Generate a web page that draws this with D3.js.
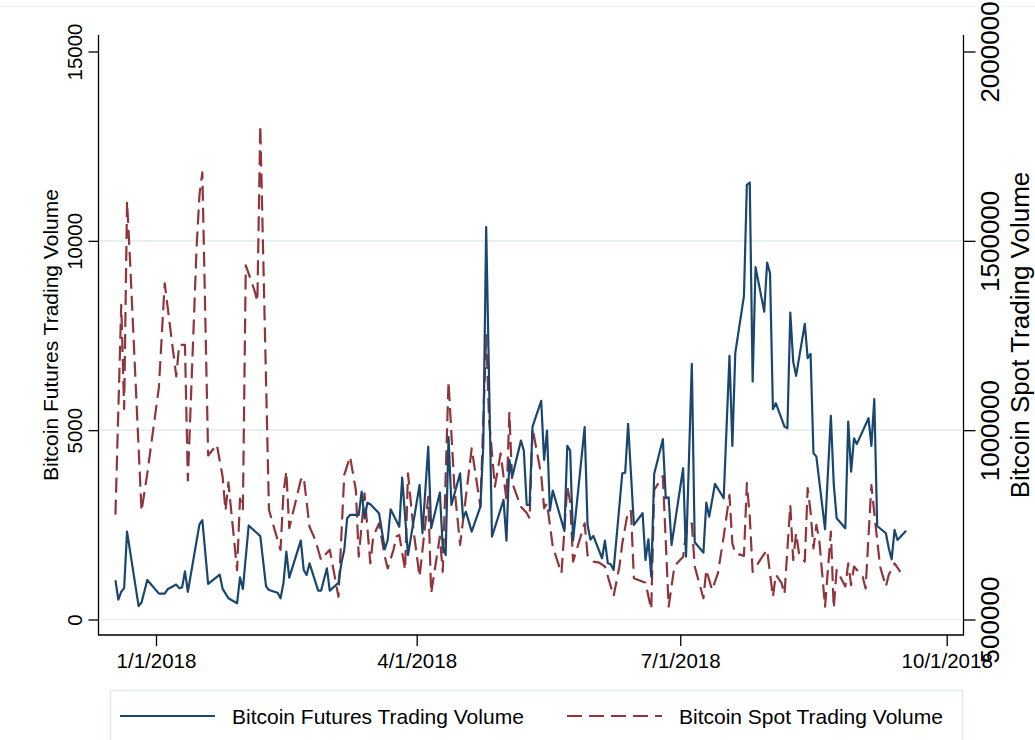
<!DOCTYPE html>
<html>
<head>
<meta charset="utf-8">
<script src="https://cdnjs.cloudflare.com/ajax/libs/d3/7.8.5/d3.min.js"></script>
<style>
  html, body { margin: 0; padding: 0; background: #fff; }
  svg { display: block; font-family: 'Liberation Sans', Arial, Helvetica, sans-serif; }
</style>
</head>
<body>
<svg id="chart" width="1035" height="740"></svg>
<script>
// CME bitcoin futures volume (contracts), business days
const futuresDates = [
  '2017-12-18', '2017-12-19', '2017-12-20', '2017-12-21', '2017-12-22', '2017-12-26', '2017-12-27', '2017-12-29',
  '2018-01-02', '2018-01-04', '2018-01-05', '2018-01-08', '2018-01-09', '2018-01-10', '2018-01-11', '2018-01-12',
  '2018-01-16', '2018-01-17', '2018-01-19', '2018-01-23', '2018-01-24', '2018-01-26', '2018-01-29', '2018-01-30',
  '2018-01-31', '2018-02-02', '2018-02-06', '2018-02-08', '2018-02-09', '2018-02-12', '2018-02-13', '2018-02-14',
  '2018-02-15', '2018-02-16', '2018-02-20', '2018-02-21', '2018-02-22', '2018-02-23', '2018-02-26', '2018-02-27',
  '2018-03-01', '2018-03-02', '2018-03-05', '2018-03-06', '2018-03-07', '2018-03-08', '2018-03-09', '2018-03-12',
  '2018-03-13', '2018-03-14', '2018-03-15', '2018-03-16', '2018-03-19', '2018-03-21', '2018-03-22', '2018-03-23',
  '2018-03-26', '2018-03-27', '2018-03-29', '2018-04-02', '2018-04-03', '2018-04-05', '2018-04-06', '2018-04-09',
  '2018-04-10', '2018-04-11', '2018-04-12', '2018-04-13', '2018-04-16', '2018-04-17', '2018-04-18', '2018-04-20',
  '2018-04-23', '2018-04-24', '2018-04-25', '2018-04-27', '2018-05-01', '2018-05-02', '2018-05-03', '2018-05-04',
  '2018-05-07', '2018-05-08', '2018-05-09', '2018-05-10', '2018-05-11', '2018-05-14', '2018-05-15', '2018-05-16',
  '2018-05-17', '2018-05-18', '2018-05-22', '2018-05-23', '2018-05-24', '2018-05-25', '2018-05-29', '2018-05-30',
  '2018-05-31', '2018-06-01', '2018-06-04', '2018-06-05', '2018-06-06', '2018-06-07', '2018-06-08', '2018-06-11',
  '2018-06-12', '2018-06-13', '2018-06-15', '2018-06-18', '2018-06-19', '2018-06-20', '2018-06-21', '2018-06-22',
  '2018-06-25', '2018-06-26', '2018-06-27', '2018-06-28', '2018-07-02', '2018-07-03', '2018-07-05', '2018-07-06',
  '2018-07-09', '2018-07-10', '2018-07-11', '2018-07-13', '2018-07-16', '2018-07-18', '2018-07-19', '2018-07-20',
  '2018-07-23', '2018-07-24', '2018-07-25', '2018-07-26', '2018-07-27', '2018-07-30', '2018-07-31', '2018-08-01',
  '2018-08-02', '2018-08-03', '2018-08-06', '2018-08-07', '2018-08-08', '2018-08-09', '2018-08-10', '2018-08-13',
  '2018-08-14', '2018-08-15', '2018-08-16', '2018-08-17', '2018-08-20', '2018-08-22', '2018-08-23', '2018-08-24',
  '2018-08-27', '2018-08-28', '2018-08-29', '2018-08-30', '2018-08-31', '2018-09-04', '2018-09-05', '2018-09-06',
  '2018-09-07', '2018-09-10', '2018-09-11', '2018-09-12', '2018-09-13', '2018-09-14', '2018-09-17'
];
const futuresValues = [
  1036, 523, 732, 827, 2322, 354, 449, 1044,
  684, 684, 798, 922, 827, 845, 1271, 732,
  2513, 2626, 940, 1186, 808, 563, 428, 1112,
  808, 2483, 2201, 875, 779, 708, 560, 956,
  1791, 1105, 2083, 1308, 1176, 1484, 761, 761,
  1352, 761, 972, 1484, 1836, 2673, 2761, 2761,
  3377, 2673, 3086, 3043, 2806, 1855, 2100, 2911,
  2452, 3746, 1704, 3553, 2277, 4565, 2409, 3350,
  1923, 1704, 4814, 3025, 3862, 2673, 2848, 2320,
  2980, 4600, 10360, 2188, 3157, 2083, 4214, 3773,
  4724, 4460, 3025, 3025, 5094, 5773, 4214, 4988,
  2874, 3403, 2340, 4584, 4460, 2090, 5078, 2497,
  2110, 2206, 1617, 2083, 1484, 1458, 1308, 3862,
  3879, 5165, 2497, 2806, 1572, 2119, 1131, 3844,
  4761, 3202, 3228, 1968, 3995, 1659, 6750, 2040,
  1765, 3086, 2716, 3580, 3202, 6962, 4584, 7033,
  8547, 11480, 11540, 6283, 9305, 8132, 9427, 9147,
  5553, 5712, 5094, 5051, 8106, 6811, 6433, 7807,
  6901, 7015, 4391, 4301, 2383, 5376, 3580, 2673,
  2409, 5226, 3905, 4787, 4637, 5316, 4584, 5818,
  2470, 2277, 1880, 1590, 2365, 2100, 2346
];

// spot exchange volume (BTC)
const spotDates = [
  '2017-12-18', '2017-12-20', '2017-12-21', '2017-12-22', '2017-12-23', '2017-12-27', '2017-12-29', '2018-01-02',
  '2018-01-04', '2018-01-08', '2018-01-09', '2018-01-11', '2018-01-12', '2018-01-15', '2018-01-16', '2018-01-17',
  '2018-01-19', '2018-01-22', '2018-01-24', '2018-01-25', '2018-01-26', '2018-01-29', '2018-01-30', '2018-01-31',
  '2018-02-01', '2018-02-04', '2018-02-05', '2018-02-06', '2018-02-09', '2018-02-11', '2018-02-13', '2018-02-14',
  '2018-02-15', '2018-02-16', '2018-02-20', '2018-02-21', '2018-02-23', '2018-02-25', '2018-02-27', '2018-02-28',
  '2018-03-02', '2018-03-05', '2018-03-07', '2018-03-09', '2018-03-11', '2018-03-12', '2018-03-14', '2018-03-16',
  '2018-03-17', '2018-03-19', '2018-03-21', '2018-03-22', '2018-03-24', '2018-03-25', '2018-03-26', '2018-03-28',
  '2018-03-29', '2018-03-31', '2018-04-02', '2018-04-05', '2018-04-06', '2018-04-09', '2018-04-10', '2018-04-12',
  '2018-04-14', '2018-04-16', '2018-04-20', '2018-04-23', '2018-04-25', '2018-04-26', '2018-04-28', '2018-04-30',
  '2018-05-02', '2018-05-03', '2018-05-04', '2018-05-07', '2018-05-09', '2018-05-10', '2018-05-11', '2018-05-14',
  '2018-05-15', '2018-05-16', '2018-05-18', '2018-05-21', '2018-05-23', '2018-05-24', '2018-05-25', '2018-05-29',
  '2018-05-30', '2018-06-01', '2018-06-03', '2018-06-05', '2018-06-08', '2018-06-10', '2018-06-11', '2018-06-13',
  '2018-06-14', '2018-06-15', '2018-06-17', '2018-06-19', '2018-06-21', '2018-06-22', '2018-06-25', '2018-06-27',
  '2018-06-29', '2018-07-02', '2018-07-03', '2018-07-05', '2018-07-06', '2018-07-09', '2018-07-10', '2018-07-12',
  '2018-07-14', '2018-07-16', '2018-07-18', '2018-07-19', '2018-07-20', '2018-07-23', '2018-07-24', '2018-07-25',
  '2018-07-26', '2018-07-29', '2018-07-31', '2018-08-02', '2018-08-03', '2018-08-05', '2018-08-06', '2018-08-08',
  '2018-08-09', '2018-08-10', '2018-08-11', '2018-08-13', '2018-08-14', '2018-08-15', '2018-08-16', '2018-08-17',
  '2018-08-18', '2018-08-20', '2018-08-22', '2018-08-23', '2018-08-24', '2018-08-27', '2018-08-28', '2018-08-29',
  '2018-08-30', '2018-09-02', '2018-09-03', '2018-09-05', '2018-09-06', '2018-09-08', '2018-09-10', '2018-09-11',
  '2018-09-13', '2018-09-15'
];
const spotValues = [
  777000, 1331000, 1056000, 1604000, 1454000, 786000, 886000, 1113000,
  1388000, 1142000, 1225000, 1225000, 867000, 1480000, 1620000, 1681000,
  933000, 962000, 877000, 787000, 862000, 630000, 819000, 791000,
  1435000, 1369000, 1340000, 1805000, 790000, 736000, 684000, 833000,
  891000, 741000, 869000, 877000, 745000, 710000, 657000, 668000,
  684000, 560000, 882000, 930000, 842000, 666000, 833000, 648000,
  719000, 754000, 666000, 635000, 684000, 719000, 723000, 631000,
  886000, 730000, 613000, 824000, 569000, 719000, 626000, 1128000,
  851000, 697000, 952000, 798000, 1251000, 1027000, 851000, 939000,
  816000, 1046000, 860000, 798000, 781000, 767000, 1005000, 882000,
  794000, 807000, 692000, 622000, 851000, 811000, 653000, 754000,
  670000, 653000, 650000, 640000, 562000, 640000, 701000, 787000,
  786000, 609000, 603000, 597000, 527000, 842000, 879000, 534000,
  641000, 666000, 728000, 754000, 640000, 556000, 631000, 578000,
  622000, 719000, 829000, 701000, 675000, 668000, 860000, 772000,
  626000, 662000, 684000, 560000, 618000, 596000, 567000, 802000,
  657000, 728000, 675000, 653000, 847000, 785000, 688000, 750000,
  710000, 534000, 732000, 530000, 631000, 587000, 648000, 591000,
  640000, 613000, 582000, 855000, 780000, 640000, 587000, 618000,
  648000, 626000
];

const xTickDates = ['2018-01-01', '2018-04-01', '2018-07-01', '2018-10-01'];
const leftTicks = [0, 5000, 10000, 15000];
const rightTicks = [500000, 1000000, 1500000, 2000000];
const seriesNames = ['Bitcoin Futures Trading Volume', 'Bitcoin Spot Trading Volume'];

const navy = '#1a476f';
const maroon = '#90353b';
const gridColor = '#e6eef1';

const parseDate = d3.utcParse('%Y-%m-%d');
const plot = { left: 98.5, right: 963.5, top: 35, bottom: 635 };

const x = d3.scaleUtc()
  .domain([parseDate('2018-01-01'), parseDate('2018-10-01')])
  .range([156, 946.7])
  ;
const yLeft = d3.scaleLinear().domain([0, 15000]).range([619.5, 51.5]);
const yRight = d3.scaleLinear().domain([500000, 2000000]).range([619.5, 51.5]);

const futures = d3.zip(futuresDates, futuresValues).map(([d, v]) => ({ date: parseDate(d), value: v }));
const spot = d3.zip(spotDates, spotValues).map(([d, v]) => ({ date: parseDate(d), value: v }));

const svg = d3.select('#chart');

// faint outer frame edge
svg.append('line')
  .attr('x1', 0).attr('x2', 1035)
  .attr('y1', 6.5).attr('y2', 6.5)
  .attr('stroke', '#eef2f4')
  .attr('stroke-width', 1.5)
  ;

// gridlines (not at the top tick)
svg.append('g')
  .selectAll('line')
  .data(leftTicks.slice(0, 3))
  .join('line')
  .attr('x1', plot.left + 1)
  .attr('x2', plot.right - 1)
  .attr('y1', d => yLeft(d))
  .attr('y2', d => yLeft(d))
  .attr('stroke', gridColor)
  .attr('stroke-width', 1.6)
  ;

function styleAxis(g) {
  g.select('.domain').remove();
  g.selectAll('.tick line').attr('stroke', '#000').attr('stroke-width', 1.3);
  g.selectAll('.tick text').attr('fill', '#000');
}

// left axis
svg.append('g')
  .attr('transform', `translate(${plot.left},0)`)
  .call(d3.axisLeft(yLeft).tickValues(leftTicks).tickSize(10).tickFormat(d3.format('d')))
  .call(styleAxis)
  .call(g => g.selectAll('.tick text')
    .attr('x', null)
    .attr('dy', null)
    .attr('text-anchor', 'middle')
    .attr('transform', 'translate(-17,0) rotate(-90)')
    .style('font-size', '20.5px'))
  ;

// right axis
svg.append('g')
  .attr('transform', `translate(${plot.right},0)`)
  .call(d3.axisRight(yRight).tickValues(rightTicks).tickSize(12).tickFormat(d3.format('d')))
  .call(styleAxis)
  .call(g => g.selectAll('.tick text')
    .attr('x', null)
    .attr('dy', null)
    .attr('text-anchor', 'middle')
    .attr('transform', 'translate(35,0) rotate(-90)')
    .style('font-size', '26px'))
  ;

// bottom axis
svg.append('g')
  .attr('transform', `translate(0,${plot.bottom})`)
  .call(d3.axisBottom(x).tickValues(xTickDates.map(parseDate)).tickSize(11).tickFormat(d3.utcFormat('%-m/%-d/%Y')))
  .call(styleAxis)
  .call(g => g.selectAll('.tick text')
    .attr('y', 33)
    .attr('dy', null)
    .style('font-size', '20.5px'))
  ;

// axis lines
svg.append('path')
  .attr('d', `M${plot.left},${plot.top}V${plot.bottom}H${plot.right}V${plot.top}`)
  .attr('fill', 'none')
  .attr('stroke', '#000')
  .attr('stroke-width', 1.3)
  ;

// axis titles
svg.append('text')
  .attr('transform', 'translate(58,335) rotate(-90)')
  .attr('text-anchor', 'middle')
  .style('font-size', '21px')
  .text(seriesNames[0])
  ;
svg.append('text')
  .attr('transform', 'translate(1029,335) rotate(-90)')
  .attr('text-anchor', 'middle')
  .style('font-size', '26px')
  .text(seriesNames[1])
  ;

// series
const futuresLine = d3.line().x(d => x(d.date)).y(d => yLeft(d.value));
const spotLine = d3.line().x(d => x(d.date)).y(d => yRight(d.value));

svg.append('path')
  .datum(spot)
  .attr('d', spotLine)
  .attr('fill', 'none')
  .attr('stroke', maroon)
  .attr('stroke-width', 2.2)
  .attr('stroke-dasharray', '15,7')
  .attr('stroke-linejoin', 'round')
  ;

svg.append('path')
  .datum(futures)
  .attr('d', futuresLine)
  .attr('fill', 'none')
  .attr('stroke', navy)
  .attr('stroke-width', 2.2)
  .attr('stroke-linejoin', 'round')
  ;

// legend
const legend = svg.append('g');

legend.append('rect')
  .attr('x', 110.5)
  .attr('y', 690.5)
  .attr('width', 852)
  .attr('height', 60)
  .attr('fill', 'none')
  .attr('stroke', '#dfe8ec')
  .attr('stroke-width', 1.5)
  ;

const legendItems = [
  { name: seriesNames[0], color: navy, dash: null, x0: 120 },
  { name: seriesNames[1], color: maroon, dash: '15,7', x0: 567 }
];

legendItems.forEach(item => {
  legend.append('line')
    .attr('x1', item.x0)
    .attr('x2', item.x0 + 95)
    .attr('y1', 716)
    .attr('y2', 716)
    .attr('stroke', item.color)
    .attr('stroke-width', 2.2)
    .attr('stroke-dasharray', item.dash)
    ;
  legend.append('text')
    .attr('x', item.x0 + 112)
    .attr('y', 723.5)
    .style('font-size', '21px')
    .text(item.name)
    ;
});
</script>
</body>
</html>
